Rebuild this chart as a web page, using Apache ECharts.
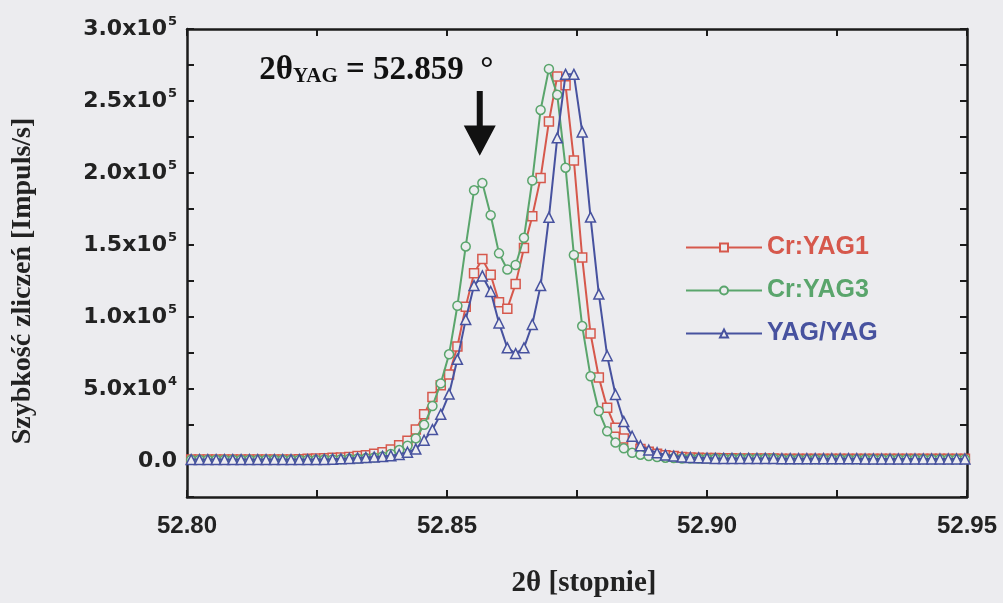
<!DOCTYPE html>
<html><head><meta charset="utf-8">
<script src="https://cdn.jsdelivr.net/npm/echarts@6/dist/echarts.min.js"></script>
<style>html,body{margin:0;padding:0;background:#ececef;} #c{width:1003px;height:603px;}</style>
</head><body><div id="c"></div>
<script>
// sampling grid of the scan (2θ, degrees)
const X_START = 52.8008;
const X_STEP = 0.0016;

const seriesNames = ['Cr:YAG1', 'Cr:YAG3', 'YAG/YAG'];

const crYag1 = [
 1100,1100,1100,1100,1100,1100,1100,1100,1100,1100,
 1100,1100,1100,1300,1500,1700,1900,2200,2500,2800,
 3400,4000,5100,6100,7900,11000,14000,21800,32400,44500,
 52600,60000,79500,107200,130300,140200,129400,110200,105800,123000,
 147900,170000,196600,235700,267100,261000,208700,141300,88500,58000,
 36900,23100,15600,11100,8400,6400,5100,4000,3400,2800,
 2500,2200,2000,2000,1900,1900,1800,1800,1700,1700,
 1700,1500,1500,1500,1500,1500,1500,1500,1500,1500,
 1500,1500,1500,1500,1500,1500,1500,1500,1500,1500,
 1500,1500,1500,1500];

const crYag3 = [
 900,900,900,900,900,900,900,900,900,900,
 900,900,900,900,900,900,1000,1100,1300,1500,
 1700,2000,2500,3200,4900,7600,10600,15700,25100,38200,
 53900,74100,107800,149000,188000,193000,170700,144200,133000,136100,
 155000,194800,243800,272300,254300,203700,143100,93700,58800,34700,
 20600,12800,8800,5700,4400,3400,2700,2300,2000,1700,
 1700,1700,1700,1700,1700,1700,1700,1700,1700,1700,
 1700,1300,1300,1300,1300,1300,1300,1300,1300,1300,
 1300,1300,1300,1300,1300,1300,1300,1300,1300,1300,
 1300,1300,1300,1300];

const yagYag = [
 1000,1000,1000,1000,1000,1000,1000,1000,1000,1000,
 1000,1000,1000,1000,1000,1000,1100,1300,1500,1800,
 2000,2400,2700,3200,3700,4500,6100,8300,14400,21800,
 32400,46500,70600,98200,121800,128500,117700,95900,78600,74600,
 78600,94800,121800,169200,224400,268500,268500,228500,169400,115900,
 73100,46200,27400,17200,10600,7600,5700,4200,3400,2700,
 2400,2200,2000,1800,1800,1800,1800,1800,1800,1800,
 1800,1600,1600,1600,1600,1600,1600,1600,1600,1600,
 1600,1400,1400,1400,1400,1400,1400,1400,1400,1400,
 1400,1400,1400,1400];

const xTickLabels = ['52.80', '52.85', '52.90', '52.95'];
const yTickValues = [0, 50000, 100000, 150000, 200000, 250000, 300000];
const yTickMantissa = ['0.0', '5.0', '1.0', '1.5', '2.0', '2.5', '3.0'];
const yTickExponent = ['', '4', '5', '5', '5', '5', '5'];

// annotation (data units)
const ANNOT_X = 52.8563;
const ARROW_TOP = 257000;
const ARROW_NECK = 233000;
const ARROW_TIP = 212000;
const ANNOT_TEXT_X = 52.8139;
const ANNOT_TEXT_Y = 271500;

const COLORS = ['#d6584c', '#5aa56c', '#47529f'];
const SYMBOLS = ['rect', 'circle', 'triangle'];
const BG = '#ececef';
const AX = '#1b1b1b';
const SANS = '"Liberation Sans", Arial, sans-serif';
const WIDE = '"DejaVu Sans", sans-serif';
const SERIF = '"Liberation Serif", "Times New Roman", serif';

const xs = crYag1.map((_, i) => +(X_START + i * X_STEP).toFixed(5));
const pairs = arr => arr.map((v, i) => [xs[i], v]);

function xLabel(v) {
  const r = Math.round(v * 1000);
  if ((r - 52800) % 50 !== 0) return '';
  return xTickLabels[(r - 52800) / 50] || '';
}
function yLabel(v) {
  const k = yTickValues.indexOf(Math.round(v));
  if (k < 0) return '';
  if (!yTickExponent[k]) return '{m|' + yTickMantissa[k] + '}';
  return '{m|' + yTickMantissa[k] + 'x10}{e|' + yTickExponent[k] + '}';
}

const tickCommon = { show: true, inside: true, length: 7, lineStyle: { color: AX, width: 2 } };
const lineCommon = { show: true, onZero: false, lineStyle: { color: AX, width: 2.5 } };

const chart = echarts.init(document.getElementById('c'), null, { renderer: 'canvas' });
const allData = [crYag1, crYag3, yagYag];

const option = {
  backgroundColor: BG,
  animation: false,
  grid: { left: 187, right: 36, top: 29, bottom: 92, containLabel: false },
  legend: {
    orient: 'vertical', left: 680, top: 230, itemWidth: 76, itemHeight: 10, itemGap: 18,
    data: seriesNames.map((n, i) => ({ name: n, textStyle: { color: COLORS[i] } })),
    textStyle: { fontFamily: SANS, fontWeight: 'bold', fontSize: 25 }
  },
  xAxis: [{
    type: 'value', min: 52.8, max: 52.95, interval: 0.025, position: 'bottom',
    axisLine: lineCommon, axisTick: tickCommon, splitLine: { show: false },
    axisLabel: { formatter: xLabel, margin: 17, fontFamily: SANS, fontWeight: 'bold', fontSize: 24, color: '#222', showMinLabel: true, showMaxLabel: true },
    name: '2θ [stopnie]', nameLocation: 'middle', nameGap: 72,
    nameTextStyle: { fontFamily: SERIF, fontWeight: 'bold', fontSize: 29, color: '#222', padding: [0, 0, 0, 14] }
  }, {
    type: 'value', min: 52.8, max: 52.95, interval: 0.025, position: 'top',
    axisLine: lineCommon, axisTick: tickCommon, axisLabel: { show: false }, splitLine: { show: false }
  }],
  yAxis: [{
    type: 'value', min: -25000, max: 300000, interval: 25000, position: 'left',
    axisLine: lineCommon, axisTick: tickCommon, splitLine: { show: false },
    axisLabel: {
      formatter: yLabel, margin: 10, showMinLabel: true, showMaxLabel: true,
      rich: {
        m: { fontFamily: WIDE, fontWeight: 'bold', fontSize: 22, color: '#222' },
        e: { fontFamily: WIDE, fontWeight: 'bold', fontSize: 13, color: '#222', padding: [0, 0, 15, 1] }
      }
    },
    name: 'Szybkość zliczeń [Impuls/s]', nameLocation: 'middle', nameRotate: 90, nameGap: 150,
    nameTextStyle: { fontFamily: SERIF, fontWeight: 'bold', fontSize: 28, color: '#222', padding: [0, 36, 0, 0] }
  }, {
    type: 'value', min: -25000, max: 300000, interval: 25000, position: 'right',
    axisLine: lineCommon, axisTick: tickCommon, axisLabel: { show: false }, splitLine: { show: false }
  }],
  series: seriesNames.map((n, i) => ({
    name: n, type: 'line', data: pairs(allData[i]),
    symbol: SYMBOLS[i], symbolSize: i === 2 ? 10 : 9, showAllSymbol: true,
    lineStyle: { color: COLORS[i], width: 2 },
    itemStyle: { color: BG, borderColor: COLORS[i], borderWidth: 1.5 },
    z: 2 + i
  }))
};
chart.setOption(option);

const ax = chart.convertToPixel({ xAxisIndex: 0 }, ANNOT_X);
const yTop = chart.convertToPixel({ yAxisIndex: 0 }, ARROW_TOP);
const yNeck = chart.convertToPixel({ yAxisIndex: 0 }, ARROW_NECK);
const yTip = chart.convertToPixel({ yAxisIndex: 0 }, ARROW_TIP);
const tx = chart.convertToPixel({ xAxisIndex: 0 }, ANNOT_TEXT_X);
const ty = chart.convertToPixel({ yAxisIndex: 0 }, ANNOT_TEXT_Y);

chart.setOption({
  graphic: [
    { type: 'polygon', z: 50, shape: { points: [[ax - 3, yTop], [ax + 3, yTop], [ax + 3, yNeck], [ax + 16, yNeck], [ax, yTip], [ax - 16, yNeck], [ax - 3, yNeck]] }, style: { fill: '#111' } },
    { type: 'text', z: 50, x: tx, y: ty, style: {
        text: '{a|2θ}{s|YAG}{a| = 52.859  °}', verticalAlign: 'middle', align: 'left',
        rich: {
          a: { fontFamily: SERIF, fontWeight: 'bold', fontSize: 33, fill: '#111' },
          s: { fontFamily: SERIF, fontWeight: 'bold', fontSize: 21, fill: '#111', padding: [13, 0, 0, 0] }
        }
    } }
  ]
});
</script></body></html>
